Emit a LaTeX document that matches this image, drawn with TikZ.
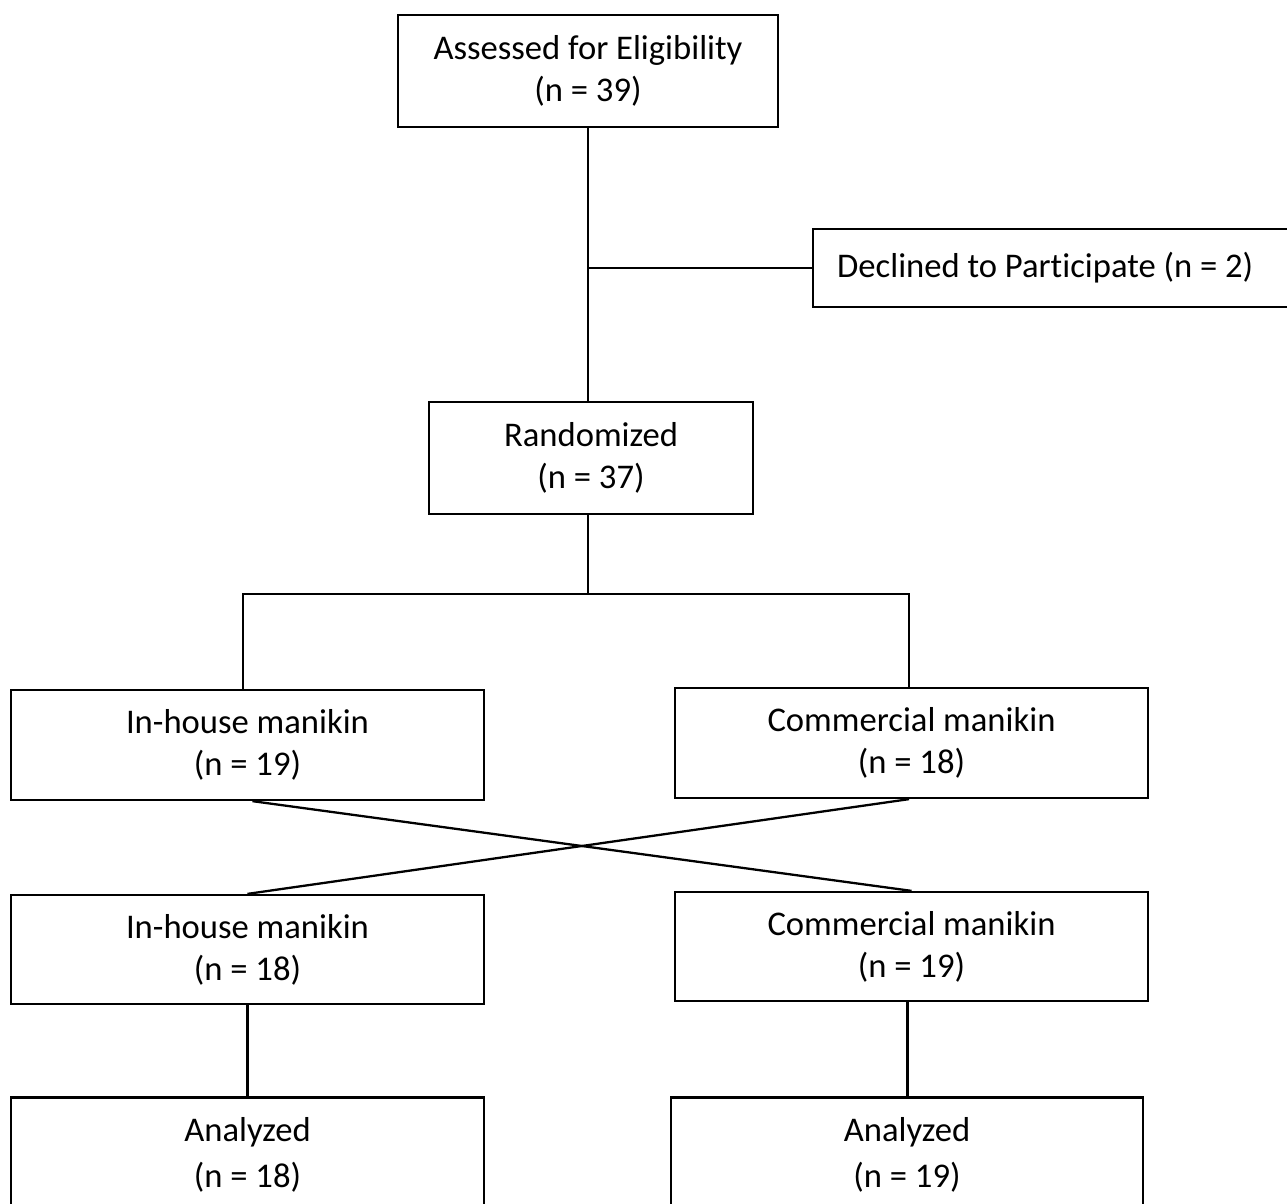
\documentclass[tikz,border=0pt]{standalone}
\usepackage{fontspec}
\setmainfont{Carlito}[Ligatures=NoCommon]
\begin{document}
\begin{tikzpicture}[
        box/.style={draw, line width=1.3pt, align=center, inner sep=0pt,
            font=\fontsize{19.7}{24}\selectfont},
        link/.style={line width=1.3pt}
    ]
        \clip (0,0) rectangle (25.74,-24.06);

        % Inclusion
        \node[box, minimum width=7.6cm, minimum height=2.24cm] (elig) at (11.76,-1.42)
            {Assessed for Eligibility\\(n = 39)};
        \node[box, anchor=west, text width=9.3cm, inner xsep=0.48cm, align=flush left,
            minimum height=1.56cm] (decl) at (16.24,-5.36) {Declined to Participate (n = 2)};
        \node[box, minimum width=6.48cm, minimum height=2.24cm] (rand) at (11.82,-9.16)
            {Randomized\\(n = 37)};

        % Erste Periode
        \node[box, minimum width=9.46cm, minimum height=2.2cm] (inh1) at (4.95,-14.9)
            {In-house manikin\\(n = 19)};
        \node[box, minimum width=9.46cm, minimum height=2.2cm] (com1) at (18.23,-14.86)
            {Commercial manikin\\(n = 18)};

        % Zweite Periode
        \node[box, minimum width=9.46cm, minimum height=2.18cm] (inh2) at (4.95,-18.99)
            {In-house manikin\\(n = 18)};
        \node[box, minimum width=9.46cm, minimum height=2.18cm] (com2) at (18.23,-18.93)
            {Commercial manikin\\(n = 19)};

        % Auswertung
        \node[box, minimum width=9.46cm, minimum height=2.3cm, font=\fontsize{19.7}{26}\selectfont]
            (ana1) at (4.95,-23.1) {Analyzed\\(n = 18)};
        \node[box, minimum width=9.44cm, minimum height=2.3cm, font=\fontsize{19.7}{26}\selectfont]
            (ana2) at (18.14,-23.1) {Analyzed\\(n = 19)};

        % Linien
        \draw[link] (elig.south) -- (elig.south |- rand.north);
        \draw[link] (decl.west) -- (decl.west -| elig.south);
        \draw[link] ([xshift=-0.06cm]rand.south) -- ++(0,-1.58) coordinate (split);
        \draw[link] ([xshift=-0.09cm]inh1.north) |- (split) -| ([xshift=-0.05cm]com1.north);
        \draw[link] ([xshift=0.1cm]inh1.south) -- (com2.north);
        \draw[link] ([xshift=-0.05cm]com1.south) -- (inh2.north);
        \draw[link] (inh2.south) -- (inh2.south |- ana1.north);
        \draw[link] ([xshift=-0.08cm]com2.south) -- ([xshift=-0.08cm]com2.south |- ana2.north);
    \end{tikzpicture}
\end{document}
